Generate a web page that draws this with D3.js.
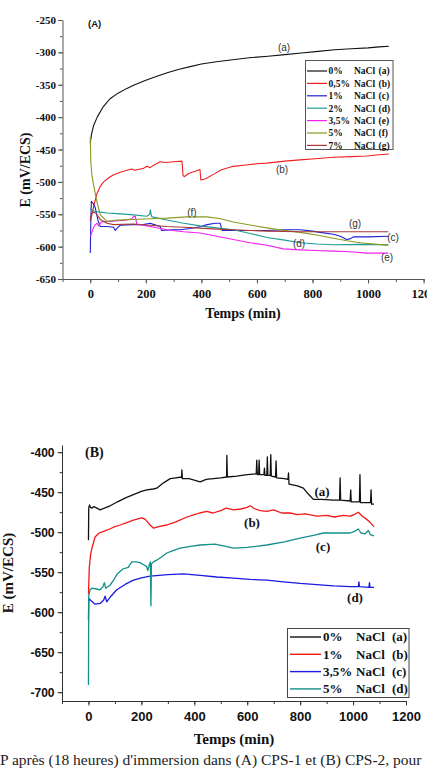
<!DOCTYPE html>
<html>
<head>
<meta charset="utf-8">
<script src="https://cdn.jsdelivr.net/npm/d3@7"></script>
<style>
  body { margin: 0; background: #fff; }
  svg { display: block; }
</style>
</head>
<body>
<svg id="fig" width="445" height="768"></svg>
<script>
// ---- (A) CPS-1 : E vs temps, 7 concentrations
const seriesA_a = [[0,-440],[5,-425],[12,-413],[25,-400],[45,-385],[70,-372],[100,-363],[130,-356],[160,-350],[200,-343],[240,-337],[280,-331],[320,-326],[360,-322],[400,-318],[460,-314],[520,-311],[580,-308],[640,-306],[700,-303.5],[760,-301],[820,-298.5],[880,-296],[940,-294.5],[1000,-293],[1040,-291.5],[1075,-290.5]];
const seriesA_b = [[0,-560],[6,-550],[15,-533],[24,-518],[36,-507],[48,-500],[65,-494],[84,-489],[108,-485],[132,-482],[150,-480],[160,-482],[192,-479],[204,-476],[215,-478],[230,-474],[252,-469],[270,-470],[300,-469],[330,-468],[334,-490],[338,-492],[354,-487],[375,-484],[395,-481],[398,-497],[410,-496],[420,-494],[445,-488],[468,-482],[490,-479],[515,-476],[560,-474],[600,-472],[636,-471],[700,-468],[755,-466],[820,-464],[875,-462],[940,-461],[995,-460],[1040,-458],[1075,-457]];
const seriesA_c = [[0,-610],[2,-560],[4,-530],[10,-533],[18,-540],[28,-560],[36,-569],[60,-569],[84,-570],[90,-575],[100,-570],[108,-567],[150,-566],[190,-566],[216,-564],[230,-566],[252,-569],[256,-575],[300,-574],[324,-574],[360,-572],[400,-569],[420,-566],[450,-564],[468,-564],[474,-575],[550,-575],[636,-575],[700,-574],[755,-574],[800,-576],[827,-578],[875,-581],[900,-584],[923,-589],[935,-588],[947,-585],[1000,-585],[1073,-584]];
const seriesA_d = [[0,-541],[12,-545],[24,-546],[60,-548],[96,-549],[155,-551],[204,-553],[214,-550],[216,-543],[220,-552],[222,-554],[276,-559],[336,-564],[396,-568],[455,-571],[515,-574],[580,-580],[636,-586],[700,-590],[755,-594],[815,-596],[875,-597],[971,-596.5],[1073,-597]];
const seriesA_e = [[0,-584],[6,-578],[12,-570],[18,-566],[24,-564],[30,-568],[40,-562],[70,-561],[100,-560],[130,-559],[150,-557],[155,-554],[162,-553],[168,-566],[180,-566],[230,-570],[276,-574],[336,-577],[396,-579],[455,-584],[515,-589],[575,-594],[636,-598],[695,-603.5],[755,-605],[815,-606],[875,-607],[935,-608],[995,-610],[1073,-610]];
const seriesA_f = [[0,-432],[2,-470],[6,-490],[12,-505],[24,-531],[36,-551],[60,-561],[96,-559],[155,-558],[216,-557],[276,-556],[348,-554],[420,-554],[470,-557],[515,-562],[580,-567],[636,-571],[700,-575],[755,-578],[815,-582],[875,-587],[925,-591],[971,-594],[1073,-598]];
const seriesA_g = [[0,-560],[4,-549],[12,-547],[20,-548],[36,-558],[60,-564],[84,-566],[155,-565],[216,-567],[276,-569],[336,-570],[396,-571.5],[455,-573],[515,-574],[575,-575],[636,-576],[755,-577],[875,-577],[1073,-577]];
const legendA = ["0%", "0,5%", "1%", "2%", "3,5%", "5%", "7%"];
const lettersA = ["a", "b", "c", "d", "e", "f", "g"];
const colorsA = ["#111111", "#f02020", "#2020d0", "#1f9c98", "#f020f0", "#8c9a20", "#a83a38"];

// ---- (B) CPS-2 : E vs temps, 4 concentrations
const seriesB_a = [[0,-510],[1,-470],[4,-466],[8,-469],[13,-470],[20,-468],[32,-470],[44,-472],[60,-470],[82,-467],[110,-462],[140,-457],[170,-453],[200,-449],[220,-447],[245,-446],[258,-445],[285,-438],[309,-433],[330,-432],[352,-431],[353,-422],[355,-433],[380,-433],[400,-435],[422,-437],[445,-434],[472,-433],[500,-432],[522,-431],[523,-404],[525,-431],[560,-430],[600,-428],[634,-427],[636,-410],[638,-428],[643,-428],[645,-410],[647,-428],[663,-428],[665,-420],[667,-429],[674,-429],[676,-406],[678,-429],[687,-429],[689,-403],[691,-430],[707,-431],[709,-411],[711,-432],[740,-433],[754,-434],[756,-426],[758,-440],[790,-442],[812,-445],[830,-452],[850,-459],[880,-459],[926,-460],[949,-460],[951,-432],[953,-460],[989,-461],[991,-447],[993,-462],[1024,-462],[1026,-428],[1028,-463],[1066,-463],[1068,-447],[1070,-465],[1079,-465]];
const seriesB_b = [[0,-578],[3,-545],[8,-528],[13,-520],[25,-506],[40,-501],[57,-499],[80,-496],[100,-493],[120,-491],[145,-488],[170,-485],[190,-483],[202,-482],[215,-484],[230,-490],[246,-495],[265,-493],[296,-491],[330,-487],[372,-481],[400,-478],[420,-476],[447,-474],[470,-476],[500,-473],[520,-470],[548,-472],[575,-471],[600,-469],[611,-467],[630,-471],[650,-473],[674,-474],[700,-472],[730,-476],[762,-476],[790,-478],[820,-477],[863,-480],[900,-479],[930,-481],[963,-479],[990,-480],[1010,-477],[1020,-475],[1035,-480],[1052,-484],[1065,-488],[1079,-493]];
const seriesB_c = [[0,-610],[1,-583],[8,-585],[25,-590],[44,-589],[57,-585],[63,-580],[69,-587],[85,-580],[107,-572],[140,-565],[170,-560],[200,-557],[233,-555],[300,-553],[359,-552],[422,-554],[485,-556],[548,-557.5],[611,-559],[674,-560],[737,-562],[800,-564],[863,-565.5],[926,-567],[990,-568],[1020,-568],[1022,-562],[1024,-568],[1060,-569],[1062,-563],[1064,-569],[1079,-569]];
const seriesB_d = [[0,-691],[1,-580],[6,-572],[13,-570],[30,-571],[44,-572],[55,-568],[60,-563],[65,-570],[82,-566],[95,-560],[107,-553],[130,-546],[150,-544],[164,-537],[180,-537],[195,-538],[210,-541],[220,-543],[224,-548],[230,-541],[234,-537],[236,-592],[238,-540],[245,-537],[258,-535],[280,-530],[296,-526],[320,-523],[346,-520],[380,-518],[422,-516],[478,-515],[510,-517],[548,-520],[600,-519],[674,-516],[740,-512],[800,-507.5],[850,-504],[888,-501],[940,-501],[989,-501],[1005,-499],[1020,-496],[1030,-501],[1045,-502],[1058,-498],[1065,-503],[1079,-504.5]];
const legendB = ["0%", "1%", "3,5%", "5%"];
const lettersB = ["a", "b", "c", "d"];
const colorsB = ["#111111", "#f01818", "#1a1ae0", "#13908a"];

const xTicks = [0, 200, 400, 600, 800, 1000, 1200];
const yTicksA = [-650, -600, -550, -500, -450, -400, -350, -300, -250];
const yTicksB = [-700, -650, -600, -550, -500, -450, -400];

const svg = d3.select("#fig");
const serif = "'Liberation Serif', 'Times New Roman', serif";
const sans = "'Liberation Sans', Arial, sans-serif";
const plain = d => String(d);   // hyphen minus, no thousands comma

// clip for chart A (the right side of the original is cut off)
svg.append("defs").append("clipPath").attr("id", "clipA")
  .append("rect").attr("x", 0).attr("y", 0).attr("width", 427).attr("height", 340);

// ================= chart A =================
const gA = svg.append("g").attr("clip-path", "url(#clipA)");
const xA = d3.scaleLinear().domain([-100, 1200]).range([62.5, 423.6]);
const yA = d3.scaleLinear().domain([-650, -250]).range([279, 20]);

const axColA = "#555";
// minor ticks
gA.append("g").attr("transform", "translate(0,279)")
  .call(d3.axisBottom(xA).tickValues(d3.range(-100, 1201, 100)).tickSize(3).tickFormat(""))
  .call(g => g.select(".domain").remove());
gA.append("g").attr("transform", "translate(62.5,0)")
  .call(d3.axisLeft(yA).tickValues(d3.range(-650, -249, 25)).tickSize(2.5).tickFormat(""))
  .call(g => g.select(".domain").remove());
// major
const xAxA = gA.append("g").attr("transform", "translate(0,279)")
  .call(d3.axisBottom(xA).tickValues(xTicks).tickFormat(plain).tickSize(4.5).tickSizeOuter(0).tickPadding(5));
const yAxA = gA.append("g").attr("transform", "translate(62.5,0)")
  .call(d3.axisLeft(yA).tickValues(yTicksA).tickFormat(plain).tickSize(4.5).tickSizeOuter(0).tickPadding(2));
gA.selectAll(".tick line, .domain").attr("stroke", axColA).attr("stroke-width", 1);
xAxA.selectAll("text").attr("font-family", serif).attr("font-weight", "bold")
  .attr("font-size", 12.5).attr("fill", "#111").attr("dy", "0.75em");
yAxA.selectAll("text").attr("font-family", serif).attr("font-weight", "bold")
  .attr("font-size", 11).attr("fill", "#111");

const lineA = d3.line().x(d => xA(d[0])).y(d => yA(d[1]));
[seriesA_a, seriesA_b, seriesA_c, seriesA_d, seriesA_e, seriesA_f, seriesA_g].forEach((s, i) => {
  gA.append("path").datum(s).attr("d", lineA)
    .attr("fill", "none").attr("stroke", colorsA[i]).attr("stroke-width", 1.1)
    .attr("stroke-linejoin", "round");
});

gA.append("text").attr("x", 88).attr("y", 27).text("(A)")
  .attr("font-family", sans).attr("font-weight", "bold").attr("font-size", 9.5).attr("fill", "#111");

// curve labels A
const labA = [["a", 284, 51], ["b", 282, 173], ["c", 393, 241], ["d", 299, 247], ["e", 387, 261], ["f", 192, 216], ["g", 355, 227]];
labA.forEach(l => {
  gA.append("text").attr("x", l[1]).attr("y", l[2]).attr("text-anchor", "middle")
    .attr("font-family", sans).attr("font-size", 10).attr("fill", "#333").text(`(${l[0]})`);
});

// legend A
const legAg = gA.append("g");
legAg.append("rect").attr("x", 305.5).attr("y", 60.5).attr("width", 87.5).attr("height", 89)
  .attr("fill", "#fff").attr("stroke", "#555").attr("stroke-width", 1);
legendA.forEach((t, i) => {
  const y = 71 + i * 12.4;
  legAg.append("line").attr("x1", 307).attr("x2", 327).attr("y1", y).attr("y2", y)
    .attr("stroke", colorsA[i]).attr("stroke-width", 1.2);
  const txt = (x, s) => legAg.append("text").attr("x", x).attr("y", y + 3.3).text(s)
    .attr("font-family", serif).attr("font-weight", "bold").attr("font-size", 9.5).attr("fill", "#111");
  txt(328.5, t); txt(354, "NaCl"); txt(378.5, `(${lettersA[i]})`);
});

svg.append("text").attr("x", 243).attr("y", 318).attr("text-anchor", "middle").text("Temps (min)")
  .attr("font-family", serif).attr("font-weight", "bold").attr("font-size", 14).attr("fill", "#111");
svg.append("text").attr("transform", "translate(30,170) rotate(-90)").attr("text-anchor", "middle")
  .text("E (mV/ECS)").attr("font-family", serif).attr("font-weight", "bold").attr("font-size", 14).attr("fill", "#111");

// ================= chart B =================
const gB = svg.append("g");
const xB = d3.scaleLinear().domain([-100, 1200]).range([62, 406]);
const yB = d3.scaleLinear().domain([-711, -391]).range([701, 445]);

gB.append("g").attr("transform", "translate(0,701)")
  .call(d3.axisBottom(xB).tickValues(d3.range(-100, 1201, 100)).tickSize(3).tickFormat(""))
  .call(g => g.select(".domain").remove());
gB.append("g").attr("transform", "translate(62,0)")
  .call(d3.axisLeft(yB).tickValues(d3.range(-700, -399, 25)).tickSize(2.5).tickFormat(""))
  .call(g => g.select(".domain").remove());
const xAxB = gB.append("g").attr("transform", "translate(0,701)")
  .call(d3.axisBottom(xB).tickValues(xTicks).tickFormat(plain).tickSize(4.5).tickSizeOuter(0).tickPadding(6));
const yAxB = gB.append("g").attr("transform", "translate(62,0)")
  .call(d3.axisLeft(yB).tickValues(yTicksB).tickFormat(plain).tickSize(4.5).tickSizeOuter(0).tickPadding(3));
gB.selectAll(".tick line, .domain").attr("stroke", "#333").attr("stroke-width", 1);
xAxB.selectAll("text").attr("font-family", sans).attr("font-weight", "bold")
  .attr("font-size", 13).attr("fill", "#111").attr("dy", "0.75em");
yAxB.selectAll("text").attr("font-family", sans).attr("font-weight", "bold")
  .attr("font-size", 12).attr("fill", "#111");

const lineB = d3.line().x(d => xB(d[0])).y(d => yB(d[1]));
[seriesB_a, seriesB_b, seriesB_c, seriesB_d].forEach((s, i) => {
  gB.append("path").datum(s).attr("d", lineB)
    .attr("fill", "none").attr("stroke", colorsB[i]).attr("stroke-width", 1.3)
    .attr("stroke-linejoin", "round");
});

gB.append("text").attr("x", 85).attr("y", 457).text("(B)")
  .attr("font-family", serif).attr("font-weight", "bold").attr("font-size", 14).attr("fill", "#111");

const labB = [["a", 322, 496], ["b", 252, 527], ["c", 323, 551], ["d", 355, 602]];
labB.forEach(l => {
  gB.append("text").attr("x", l[1]).attr("y", l[2]).attr("text-anchor", "middle")
    .attr("font-family", serif).attr("font-weight", "bold").attr("font-size", 13).attr("fill", "#111").text(`(${l[0]})`);
});

const legBg = gB.append("g");
legBg.append("rect").attr("x", 287.5).attr("y", 628.5).attr("width", 121.5).attr("height", 69)
  .attr("fill", "#fff").attr("stroke", "#444").attr("stroke-width", 1);
legendB.forEach((t, i) => {
  const y = 637 + i * 17.3;
  legBg.append("line").attr("x1", 290).attr("x2", 321).attr("y1", y).attr("y2", y)
    .attr("stroke", colorsB[i]).attr("stroke-width", 1.4);
  const txt = (x, s) => legBg.append("text").attr("x", x).attr("y", y + 4.3).text(s)
    .attr("font-family", serif).attr("font-weight", "bold").attr("font-size", 13).attr("fill", "#111");
  txt(323, t); txt(356, "NaCl"); txt(392, `(${lettersB[i]})`);
});

svg.append("text").attr("x", 234).attr("y", 744).attr("text-anchor", "middle").text("Temps (min)")
  .attr("font-family", serif).attr("font-weight", "bold").attr("font-size", 15).attr("fill", "#111");
svg.append("text").attr("transform", "translate(13,573) rotate(-90)").attr("text-anchor", "middle")
  .text("E (mV/ECS)").attr("font-family", serif).attr("font-weight", "bold").attr("font-size", 15).attr("fill", "#111");

// caption line under the figure
svg.append("text").attr("x", 0).attr("y", 764.5).text("P après (18 heures) d'immersion dans (A) CPS-1 et (B) CPS-2, pour")
  .attr("font-family", serif).attr("font-size", 15.5).attr("fill", "#222");
</script>
</body>
</html>
